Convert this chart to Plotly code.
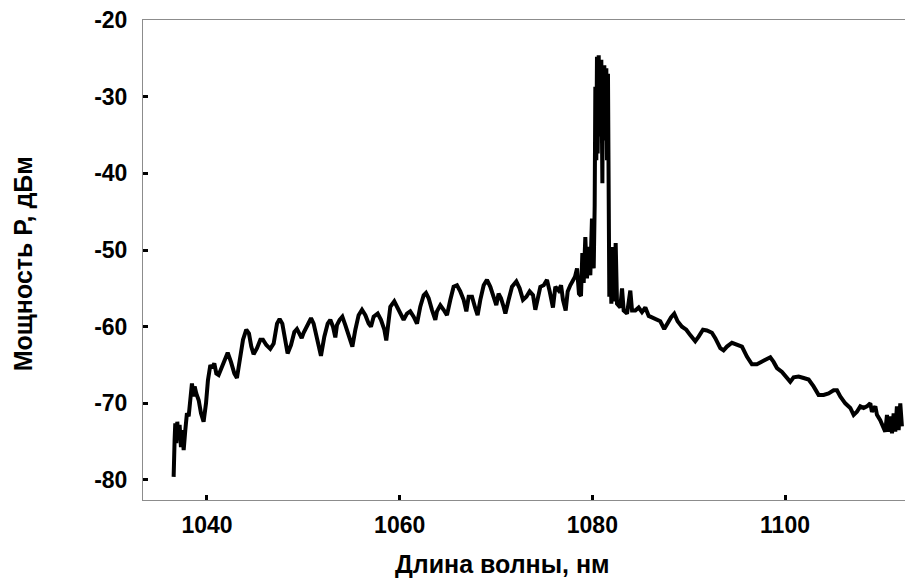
import plotly.graph_objects as go

# Spectrum: wavelength (nm) and power (dBm)
wavelength_nm = [
    1036.54, 1036.57, 1036.64, 1036.71, 1036.82, 1036.92, 1037.02, 1037.16, 1037.30, 1037.44,
    1037.58, 1037.75, 1037.92, 1038.10, 1038.27, 1038.44, 1038.62, 1038.72, 1038.89, 1039.14,
    1039.38, 1039.65, 1039.90, 1040.10, 1040.35, 1040.52, 1040.76, 1040.97, 1041.21, 1041.56,
    1041.90, 1042.15, 1042.49, 1042.84, 1043.11, 1043.39, 1043.74, 1044.08, 1044.36, 1044.60,
    1044.84, 1045.19, 1045.54, 1045.81, 1046.16, 1046.57, 1046.92, 1047.27, 1047.54, 1047.82,
    1048.10, 1048.37, 1048.72, 1049.07, 1049.34, 1049.62, 1049.83, 1050.03, 1050.38, 1050.80,
    1051.07, 1051.42, 1051.83, 1052.18, 1052.53, 1052.80, 1053.08, 1053.32, 1053.49, 1053.77,
    1054.05, 1054.36, 1054.71, 1055.09, 1055.40, 1055.74, 1056.09, 1056.44, 1056.78, 1057.02,
    1057.30, 1057.72, 1058.06, 1058.41, 1058.61, 1058.86, 1059.03,
    1059.44, 1059.72, 1060.07, 1060.41, 1060.76, 1061.10, 1061.45, 1061.80, 1062.14, 1062.49,
    1062.73, 1063.01, 1063.35, 1063.70, 1063.87, 1064.22, 1064.56, 1064.91, 1065.26, 1065.60,
    1065.95, 1066.29, 1066.64, 1066.92, 1067.16, 1067.51, 1067.85, 1068.09, 1068.37, 1068.72,
    1069.06, 1069.41, 1069.75, 1070.03, 1070.27, 1070.52, 1070.79, 1070.97, 1071.31, 1071.66,
    1072.11, 1072.45, 1072.80, 1073.15, 1073.49, 1073.84, 1074.08, 1074.32, 1074.60,
    1074.95, 1075.29, 1075.57, 1075.91, 1076.16, 1076.50, 1076.75, 1076.95, 1077.23, 1077.44,
    1077.71, 1077.99, 1078.20, 1078.41, 1078.61, 1078.82, 1078.96, 1079.10, 1079.27, 1079.44,
    1079.62, 1079.79, 1079.96, 1080.14, 1080.24, 1080.31, 1080.41, 1080.48, 1080.55, 1080.66,
    1080.72, 1080.79, 1080.86, 1080.93, 1081.04, 1081.10, 1081.17, 1081.24, 1081.35, 1081.45,
    1081.52, 1081.62, 1081.69, 1081.76, 1081.87, 1081.97, 1082.14, 1082.28, 1082.42, 1082.56,
    1082.90, 1083.08, 1083.25, 1083.60, 1083.94, 1084.12, 1084.46, 1084.81, 1085.15, 1085.50,
    1085.85, 1086.36,
    1086.70, 1087.05, 1087.46, 1087.74, 1088.16, 1088.50, 1088.85, 1089.30, 1089.75, 1090.16,
    1090.68, 1091.03, 1091.48, 1091.89, 1092.41, 1092.76, 1093.28, 1093.62, 1093.97, 1094.49,
    1095.01, 1095.53, 1096.04, 1096.56, 1097.08, 1097.60, 1098.12, 1098.47, 1098.81, 1099.16,
    1099.68, 1100.20, 1100.54, 1100.89, 1101.41, 1101.93, 1102.45, 1102.96, 1103.48, 1104.00,
    1104.52, 1105.04, 1105.39, 1105.73, 1106.25, 1106.77, 1107.12, 1107.46, 1107.81, 1108.15,
    1108.50, 1108.85, 1109.02, 1109.37, 1109.54, 1109.88, 1110.16, 1110.40, 1110.58, 1110.75,
    1110.92, 1111.10, 1111.27, 1111.44, 1111.61, 1111.79, 1111.96, 1112.13,
]

power_dbm = [
    -79.6, -76.1, -74.8, -72.6, -75.2, -72.4, -74.8, -72.8, -75.7, -73.5,
    -76.1, -73.5, -71.3, -71.7, -69.1, -67.4, -69.1, -67.8, -68.7, -69.6,
    -71.3, -72.4, -70.0, -67.0, -65.0, -65.4, -64.8, -66.1, -66.3, -65.2,
    -63.9, -63.4, -64.6, -66.1, -66.7, -64.8, -61.7, -60.4, -60.9, -62.6,
    -63.6, -62.8, -61.7, -61.7, -62.4, -62.9, -62.2, -59.6, -59.0, -59.6,
    -62.0, -63.5, -62.4, -60.7, -60.3, -60.9, -61.5, -60.8, -59.8, -58.9,
    -59.6, -61.5, -63.8, -61.3, -59.6, -59.1, -60.0, -61.4, -59.8, -59.1,
    -58.7, -59.8, -61.3, -62.6, -60.4, -58.5, -57.8, -58.5, -59.6, -60.0,
    -58.7, -58.3, -59.1, -60.4, -61.8, -58.7, -57.4,
    -56.7, -57.4, -58.5, -59.1, -58.3, -58.0, -58.7, -59.6, -57.4, -55.9,
    -55.6, -56.3, -57.8, -59.1, -58.0, -57.2, -57.8, -58.5, -56.5, -54.8,
    -54.6, -55.4, -56.5, -58.0, -56.1, -56.1, -57.6, -58.5, -56.5, -54.6,
    -53.9, -54.8, -56.1, -57.2, -55.7, -56.3, -57.4, -58.3, -56.5, -54.8,
    -54.1, -55.0, -56.5, -56.1, -55.4, -55.9, -57.8, -56.1, -54.8,
    -54.6, -53.9, -55.4, -57.5, -54.8, -55.3, -54.6, -56.5, -57.9, -55.4,
    -54.6, -54.1, -53.5, -52.4, -55.7, -56.0, -50.4, -54.3, -48.3, -53.7,
    -49.6, -53.3, -45.9, -52.4, -44.3, -28.7, -38.3, -24.8, -37.4, -24.6,
    -33.0, -25.7, -35.2, -25.2, -41.3, -26.1, -35.7, -25.9, -33.0, -26.3,
    -38.3, -27.0, -46.1, -56.1, -50.4, -57.0, -49.6, -56.7, -49.1, -57.0,
    -57.5, -55.0, -57.9, -58.3, -55.3, -57.9, -57.9, -57.5, -58.1, -57.5,
    -58.6, -58.9,
    -59.1, -59.3, -60.3, -59.6, -58.8, -58.3, -59.3, -60.0, -60.4, -61.1,
    -61.9, -61.3, -60.4, -60.5, -60.8, -61.5, -62.8, -63.1, -62.6, -62.1,
    -62.3, -62.6, -63.9, -64.9, -64.9, -64.6, -64.3, -64.0, -64.6, -65.4,
    -65.9, -66.6, -67.2, -66.6, -66.5, -66.7, -66.9, -67.8, -68.9, -68.9,
    -68.7, -68.3, -68.3, -69.1, -70.0, -70.6, -71.5, -71.1, -70.4, -70.6,
    -70.4, -70.0, -71.1, -70.4, -71.5, -72.2, -73.0, -73.7, -71.5, -73.7,
    -71.7, -73.9, -71.3, -73.7, -70.4, -73.5, -70.0, -73.0,
]

x_ticks = [1040, 1060, 1080, 1100]
y_ticks = [-80, -70, -60, -50, -40, -30, -20]
y_tick_text = ["-80", "-70", "-60", "-50", "-40", "-30", "-20"]
x_title = "Длина волны, нм"
y_title = "Мощность Р, дБм"

FONT = "Liberation Sans, Arial, sans-serif"

fig = go.Figure()
fig.add_trace(go.Scatter(
    x=wavelength_nm, y=power_dbm, mode="lines",
    line=dict(color="black", width=4),
    showlegend=False, hoverinfo="skip",
))

axis_common = dict(
    showgrid=False, zeroline=False,
    showline=True, linecolor="#8c8c8c", linewidth=1,
    ticks="inside", ticklen=5, tickwidth=2.5, tickcolor="black",
    tickfont=dict(family=FONT, size=23, color="black", weight="bold"),
)

fig.update_layout(
    width=905, height=579,
    margin=dict(l=143, r=0, t=20, b=79),
    paper_bgcolor="white", plot_bgcolor="white",
    xaxis=dict(range=[1033.36, 1112.45], tickvals=x_ticks, mirror=True,
               ticklabelstandoff=4, **axis_common),
    yaxis=dict(range=[-82.61, -20], tickvals=y_ticks, ticktext=y_tick_text,
               ticklabelstandoff=10, **axis_common),
    annotations=[
        dict(text=x_title, xref="paper", yref="paper", x=0.472, y=-0.1323,
             xanchor="center", yanchor="middle", showarrow=False,
             font=dict(family=FONT, size=25, color="black", weight="bold")),
        dict(text=y_title, xref="paper", yref="paper", x=-0.157, y=0.4917,
             xanchor="center", yanchor="middle", showarrow=False, textangle=-90,
             font=dict(family=FONT, size=25, color="black", weight="bold")),
    ],
)

fig.write_html("out.html")
